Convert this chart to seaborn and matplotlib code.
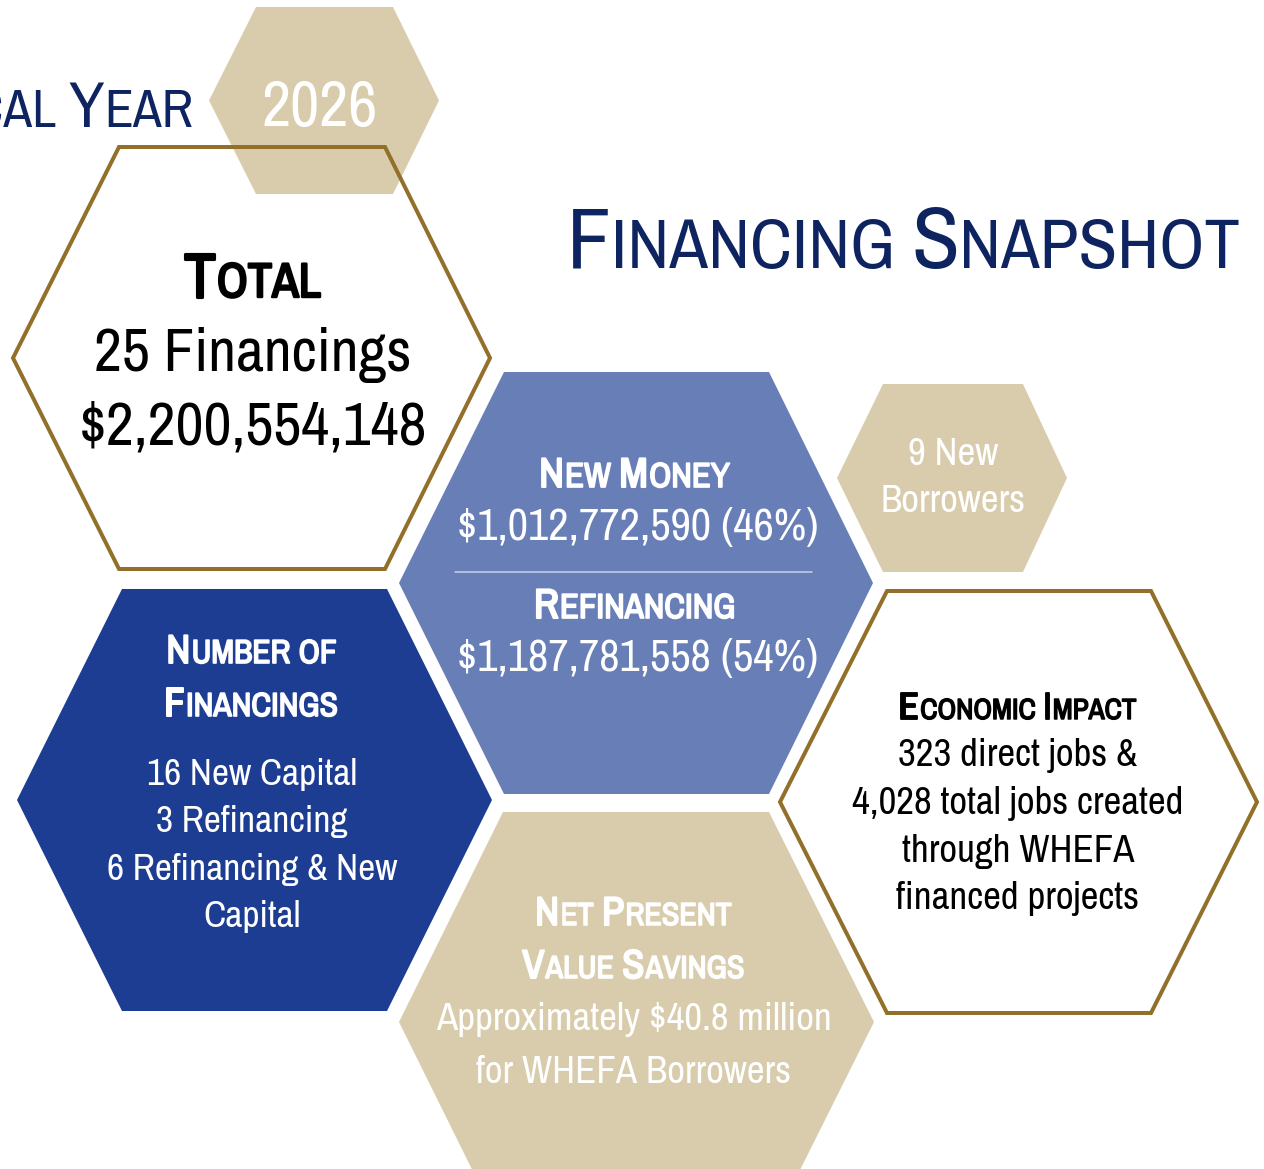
import textwrap

import matplotlib
matplotlib.use("Agg")
import matplotlib.pyplot as plt
import matplotlib.patheffects as pe
from matplotlib.patches import Polygon
import seaborn as sns

# Snapshot figures
FISCAL_YEAR = "2026"
TOTAL_FINANCINGS = 25
TOTAL_AMOUNT = 2200554148
FUNDING_LABELS = ["New Money", "Refinancing"]
FUNDING_AMOUNTS = [1012772590, 1187781558]
FUNDING_PCTS = [46, 54]
NEW_BORROWERS = 9
FINANCING_TYPES = ["New Capital", "Refinancing", "Refinancing & New Capital"]
FINANCING_COUNTS = [16, 3, 6]
NPV_SAVINGS_M = 40.8
DIRECT_JOBS = 323
TOTAL_JOBS = 4028

# Colours
NAVY = "#0E2461"
TAN = "#D9CCAD"
GOLD = "#92702A"
MID_BLUE = "#687EB7"
DARK_BLUE = "#1D3D93"

W, H = 1264, 1169
PT = 100 / 72  # px per point

sns.set_theme(style="white")
plt.rcParams["font.family"] = ["Archivo Narrow", "Roboto Condensed",
                               "Liberation Sans", "DejaVu Sans"]

fig = plt.figure(figsize=(W / 100, H / 100), dpi=100)
ax = fig.add_axes([0, 0, 1, 1])
ax.set_xlim(0, W)
ax.set_ylim(H, 0)
ax.axis("off")
renderer = fig.canvas.get_renderer()


def hexagon(xl, xtl, xtr, xr, yt, yb, **kw):
    ym = (yt + yb) / 2
    pts = [(xl, ym), (xtl, yt), (xtr, yt), (xr, ym), (xtr, yb), (xtl, yb)]
    ax.add_patch(Polygon(pts, closed=True, joinstyle="miter", **kw))


def smallcaps(x, y, text, big, small, color, bold=False, ha="center"):
    """Fake small caps: upper case at big size, lower case as small capitals."""
    runs = []
    for ch in text:
        kind = "gap" if ch == " " else ("big" if ch.isupper() else "small")
        if runs and runs[-1][0] == kind:
            runs[-1][1] += ch
        else:
            runs.append([kind, ch])
    items, total = [], 0.0
    for kind, s in runs:
        if kind == "gap":
            w = 0.25 * big * len(s)
            items.append((None, w))
        else:
            size = big if kind == "big" else small
            t = ax.text(0, y, s.upper(), fontsize=size, color=color,
                        ha="left", va="baseline")
            w = t.get_window_extent(renderer).width
            if bold:
                sw = 0.05 * size
                t.set_path_effects([pe.withStroke(linewidth=sw, foreground=color)])
                w += sw * PT * 0.6
            items.append((t, w))
        total += w
    x0 = x - total / 2 if ha == "center" else (x - total if ha == "right" else x)
    for t, w in items:
        if t is not None:
            t.set_x(x0)
        x0 += w


def lines(x, baselines, texts, size, color):
    for yb, s in zip(baselines, texts):
        ax.text(x, yb, s, fontsize=size, color=color, ha="center", va="baseline")


# hexagons
hexagon(209, 256, 393, 439, 7, 194, facecolor=TAN, edgecolor="none", zorder=1)
hexagon(13, 119, 385, 490, 147, 569, facecolor="none", edgecolor=GOLD,
        linewidth=4 / PT, zorder=2)
hexagon(399, 504, 769, 873, 372, 794, facecolor=MID_BLUE, edgecolor="none", zorder=1)
hexagon(837, 883, 1023, 1067, 384, 572, facecolor=TAN, edgecolor="none", zorder=1)
hexagon(17, 122, 387, 492, 589, 1011, facecolor=DARK_BLUE, edgecolor="none", zorder=1)
hexagon(780, 887, 1151, 1257, 591, 1013, facecolor="white", edgecolor=GOLD,
        linewidth=4 / PT, zorder=2)
hexagon(399, 503, 769, 874, 812, 1232, facecolor=TAN, edgecolor="none", zorder=1)

# header
smallcaps(193, 127, "Fiscal Year", 47, 38, NAVY, ha="right")
ax.text(320, 126, FISCAL_YEAR, fontsize=46, color="white", ha="center", va="baseline")
smallcaps(1240, 268, "Financing Snapshot", 63, 51, NAVY, ha="right")

# total
smallcaps(253, 297, "Total", 45, 35, "black", bold=True)
lines(253, [371, 444], [f"{TOTAL_FINANCINGS} Financings", f"${TOTAL_AMOUNT:,}"], 44, "black")

# new money / refinancing
for lab, amt, pct, yb in zip(FUNDING_LABELS, FUNDING_AMOUNTS, FUNDING_PCTS, [487, 618]):
    smallcaps(635, yb, lab, 30, 25, "white", bold=True)
    lines(638, [yb + 53], [f"${amt:,} ({pct}%)"], 32, "white")
ax.plot([455, 812], [572, 572], color="#C9D0E6", linewidth=1.1, zorder=3)

# new borrowers
lines(953, [465, 512], [f"{NEW_BORROWERS} New", "Borrowers"], 28, "white")

# number of financings
smallcaps(252, 663, "Number of", 29, 24, "white", bold=True)
smallcaps(252, 716, "Financings", 29, 24, "white", bold=True)
fin_lines = []
for n, kind in zip(FINANCING_COUNTS, FINANCING_TYPES):
    fin_lines += textwrap.wrap(f"{n} {kind}", width=19)
lines(252, [785, 832, 880, 927], fin_lines, 27, "white")

# npv savings
smallcaps(634, 925, "Net Present", 29, 23, "white", bold=True)
smallcaps(634, 978, "Value Savings", 29, 23, "white", bold=True)
lines(634, [1030, 1083],
      [f"Approximately ${NPV_SAVINGS_M} million", "for WHEFA Borrowers"], 28, "white")

# economic impact
smallcaps(1018, 719, "Economic Impact", 27, 21, "black", bold=True)
lines(1018, [766, 814, 862, 909],
      [f"{DIRECT_JOBS} direct jobs &", f"{TOTAL_JOBS:,} total jobs created",
       "through WHEFA", "financed projects"], 28, "black")

fig.savefig("out.png", dpi=100, facecolor="white")
